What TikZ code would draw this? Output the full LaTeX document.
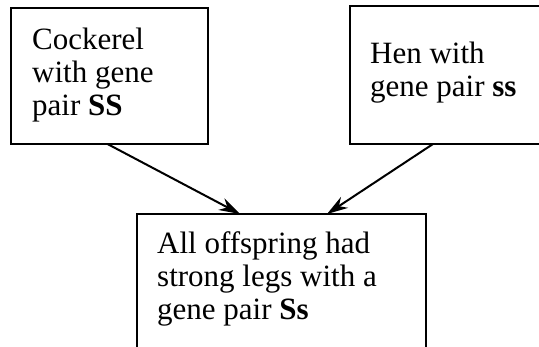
\documentclass[tikz,border=0pt]{standalone}
\usepackage{fontspec}
\setmainfont{Liberation Serif}
\usepackage{tikz}
\usetikzlibrary{arrows.meta}
\tikzset{box/.style={draw, line width=2.6pt, inner sep=0pt, outer sep=0pt, anchor=north west},
 txt/.style={anchor=base west, inner sep=0pt, align=left,
   font=\fontsize{31}{33}\selectfont},
 arr/.style={line width=2pt, -{Stealth[length=21pt, width=13pt]}},
 }

\begin{document}
\begin{tikzpicture}[x=1pt, y=-1pt]
        \useasboundingbox (0,0) rectangle (539,347);
        \clip (0,0) rectangle (539,347);
        % the three boxes
        \node[box, minimum width=197pt, minimum height=136pt] (cock) at (11,8) {};
        \node[box, minimum width=210pt, minimum height=138pt] (hen) at (350,6) {};
        \node[box, minimum width=289pt, minimum height=180pt] (off) at (137,214) {};
        % texts (anchored on their last line)
        \node[txt] (cocktxt) at (32,116) {Cockerel\\with gene\\pair \textbf{SS}};
        \node[txt] (hentxt) at (370,97) {Hen with\\gene pair \textbf{ss}};
        \node[txt] (offtxt) at (157,320) {All offspring had\\strong legs with a\\gene pair \textbf{Ss}};
        % crosses
        \draw[arr] ([xshift=-2pt]cock.south) -- ([xshift=103pt]off.north west);
        \draw[arr] ([xshift=83pt]hen.south west) -- ([xshift=190pt]off.north west);
    \end{tikzpicture}
\end{document}
